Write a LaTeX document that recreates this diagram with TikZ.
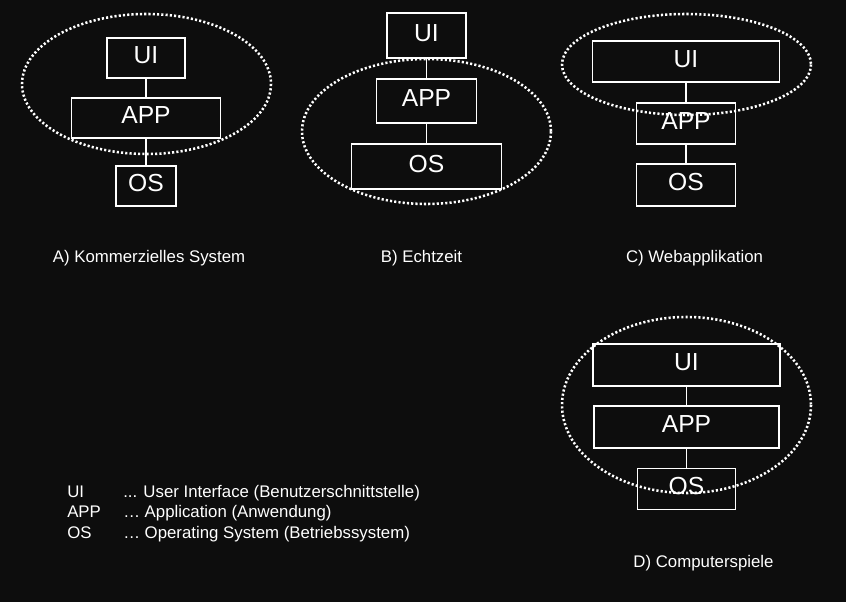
\documentclass[tikz,border=0pt]{standalone}
\usepackage{fontspec}
\setmainfont{Liberation Sans}
\definecolor{bgdark}{RGB}{13,13,13}

\begin{document}
\begin{tikzpicture}[x=0.75pt,y=0.75pt,yscale=-1,xscale=1,
    layer/.style={draw=white,line width=1.3pt,fill=bgdark,text=white,inner sep=0pt,
      font=\fontsize{18.5}{20}\selectfont,text height=13.3pt,text depth=4.5pt},
    link/.style={draw=white,line width=1.2pt},
    ring/.style={draw=white,line width=1.9pt,dash pattern=on 1.6pt off 1.6pt},
    caption/.style={text=white,inner sep=0pt,font=\fontsize{12.6}{14}\selectfont,anchor=base}]
    %set diagram to 846 x 602, dark background
    \fill[bgdark] (0,0) rectangle (846,602);
    \useasboundingbox (0,0) rectangle (846,602);

    % A) Kommerzielles System
    \node[layer,minimum width=58.5pt,minimum height=30pt] (uiA) at (146,58) {UI};
    \node[layer,minimum width=111.75pt,minimum height=30pt] (appA) at (146,118) {APP};
    \node[layer,minimum width=45pt,minimum height=30pt] (osA) at (146,186) {OS};
    \draw[link] (uiA) -- (appA);
    \draw[link] (appA) -- (osA);
    %Shape: Ellipse
    \draw[ring] (146.5,84) ellipse [x radius=124.5, y radius=70];

    % B) Echtzeit
    \node[layer,minimum width=59.25pt,minimum height=33.75pt] (uiB) at (426.5,35.5) {UI};
    \node[layer,minimum width=75pt,minimum height=33pt] (appB) at (426.5,101) {APP};
    \node[layer,minimum width=112.5pt,minimum height=33.75pt] (osB) at (426.5,166.5) {OS};
    \draw[link] (uiB) -- (appB);
    \draw[link] (appB) -- (osB);
    %Shape: Ellipse
    \draw[ring] (426.5,131.5) ellipse [x radius=124.5, y radius=72.5];

    % C) Webapplikation
    \node[layer,minimum width=140.25pt,minimum height=30.75pt] (uiC) at (686,61.5) {UI};
    \node[layer,minimum width=74.25pt,minimum height=30.75pt] (appC) at (686,123.5) {APP};
    \node[layer,minimum width=74.25pt,minimum height=31.5pt] (osC) at (686,185) {OS};
    \draw[link] (uiC) -- (appC);
    \draw[link] (appC) -- (osC);
    %Shape: Ellipse
    \draw[ring] (686.5,64.5) ellipse [x radius=124.5, y radius=50.5];

    % D) Computerspiele
    \node[layer,minimum width=140.25pt,minimum height=31.5pt] (uiD) at (686.5,365) {UI};
    \node[layer,minimum width=138.75pt,minimum height=31.5pt] (appD) at (686.5,427) {APP};
    \node[layer,minimum width=73.5pt,minimum height=30.75pt] (osD) at (686.5,489) {OS};
    \draw[link] (uiD) -- (appD);
    \draw[link] (appD) -- (osD);
    %Shape: Ellipse
    \draw[ring] (686.5,405) ellipse [x radius=124.5, y radius=88];

    % Text Node
    \node[caption] (capA) at (149,263) {A) Kommerzielles System};
    % Text Node
    \node[caption] (capB) at (421.5,263) {B) Echtzeit};
    % Text Node
    \node[caption] (capC) at (694.5,263) {C) Webapplikation};
    % Text Node
    \node[caption] (capD) at (703.5,567) {D) Computerspiele};

    % Legend
    \node[caption,anchor=base west] (keyUI) at (67,497) {UI};
    \node[caption,anchor=base west] (txtUI) at (123,497) {... User Interface (Benutzerschnittstelle)};
    \node[caption,anchor=base west] (keyAPP) at (67,517.5) {APP};
    \node[caption,anchor=base west] (txtAPP) at (123,517.5) {… Application (Anwendung)};
    \node[caption,anchor=base west] (keyOS) at (67,538) {OS};
    \node[caption,anchor=base west] (txtOS) at (123,538) {… Operating System (Betriebssystem)};
\end{tikzpicture}
\end{document}
